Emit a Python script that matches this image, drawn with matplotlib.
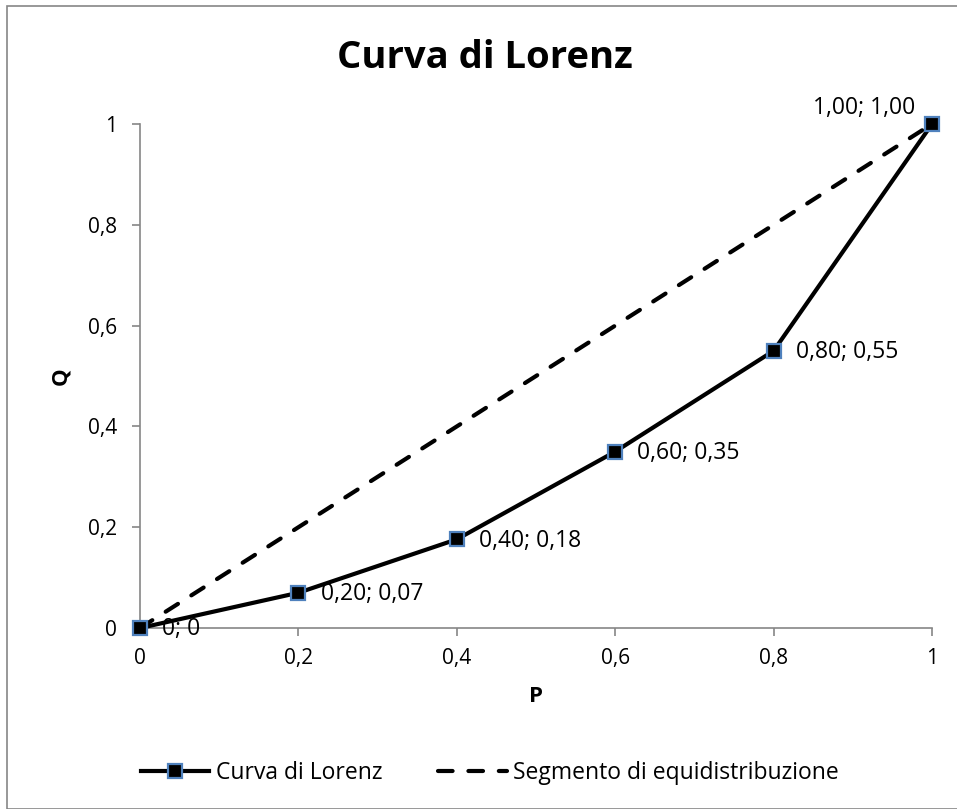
import matplotlib
matplotlib.use("Agg")
from matplotlib import pyplot as plt
from matplotlib.patches import Rectangle

plt.rcParams['font.family'] = ['Open Sans', 'DejaVu Sans']

p = [0, 0.2, 0.4, 0.6, 0.8, 1.0]
q = [0, 0.07, 0.176, 0.35, 0.55, 1.0]
point_labels = ['0; 0', '0,20; 0,07', '0,40; 0,18', '0,60; 0,35', '0,80; 0,55', '1,00; 1,00']
eq_p = [0, 1]
eq_q = [0, 1]
ticks = [0, 0.2, 0.4, 0.6, 0.8, 1]
tick_labels = ['0', '0,2', '0,4', '0,6', '0,8', '1']

fs = 15
fs_lab = 16.5

fig = plt.figure(figsize=(9.57, 8.09), dpi=100)
fig.patches.append(Rectangle((0.007, 0.0), 1.2, 0.993, transform=fig.transFigure,
                             fill=False, edgecolor='#868686', linewidth=1.2))
ax = fig.add_axes([0.1463, 0.2237, 0.8276, 0.623])

ax.plot(p, q, color='black', linewidth=3, marker='s', markersize=10.5,
        markerfacecolor='black', markeredgecolor='#4f81bd', markeredgewidth=1.6,
        label='Curva di Lorenz', zorder=3, clip_on=False)
ax.plot(eq_p, eq_q, color='black', linewidth=3, linestyle=(0, (3.5, 3.8)),
        dash_capstyle='round', label='Segmento di equidistribuzione', zorder=2,
        clip_on=False)

for i, txt in enumerate(point_labels):
    if i == len(point_labels) - 1:
        ax.annotate(txt, (p[i], q[i]), xytext=(-12, 11.5), textcoords='offset points',
                    ha='right', va='center', fontsize=fs_lab)
    else:
        ax.annotate(txt, (p[i], q[i]), xytext=(16, -1), textcoords='offset points',
                    ha='left', va='center', fontsize=fs_lab)

ax.set_xlim(0, 1)
ax.set_ylim(0, 1)
ax.set_xticks(ticks)
ax.set_xticklabels(tick_labels)
ax.set_yticks(ticks)
ax.set_yticklabels(tick_labels)
ax.tick_params(axis='both', labelsize=fs, color='#868686', length=5.5, width=1.2)
ax.tick_params(axis='x', pad=9)
ax.tick_params(axis='y', pad=11)
for s in ['top', 'right']:
    ax.spines[s].set_visible(False)
for s in ['left', 'bottom']:
    ax.spines[s].set_color('#868686')
    ax.spines[s].set_linewidth(1.2)

ax.set_xlabel('P', fontsize=16, fontweight='bold', labelpad=12)
ax.set_ylabel('Q', fontsize=16, fontweight='bold', labelpad=12)
fig.text(0.507, 0.928, 'Curva di Lorenz', ha='center', va='center', fontsize=27.5,
         fontweight='bold')

fig.legend(loc='center', bbox_to_anchor=(0.512, 0.044), ncol=2, frameon=False,
           fontsize=fs_lab, handlelength=3.0, handletextpad=0.3, columnspacing=2.4)

fig.savefig('out.png', dpi=100)
